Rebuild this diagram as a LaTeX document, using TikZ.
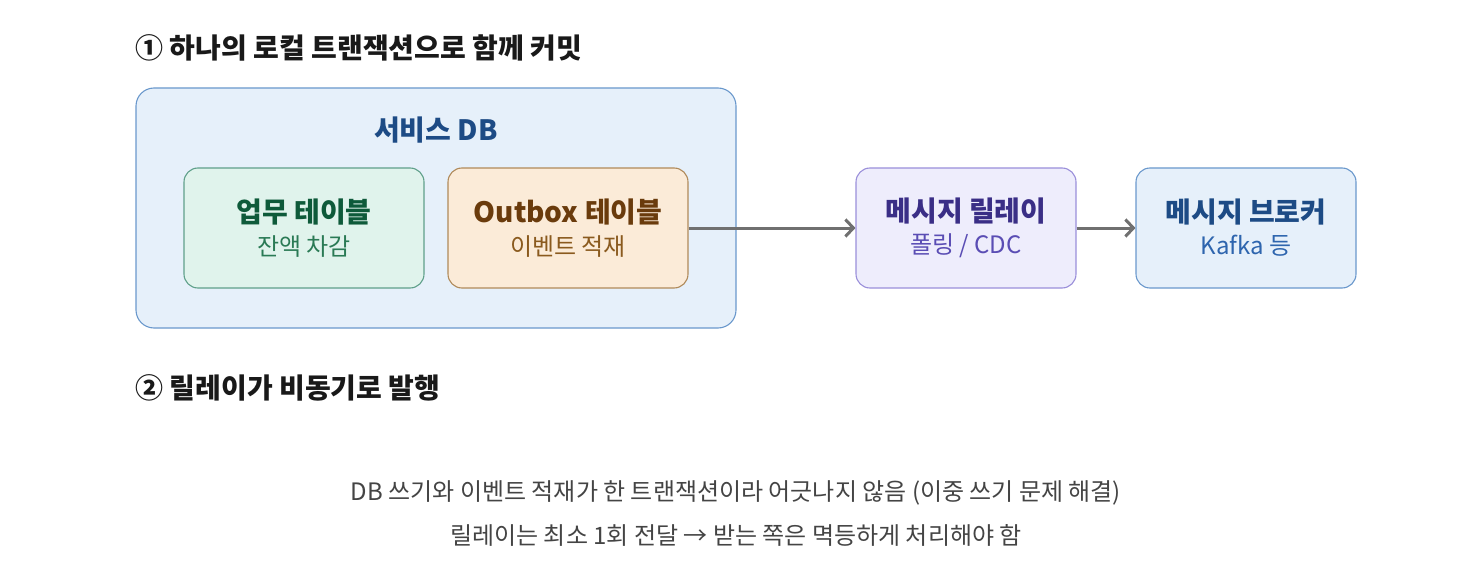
\documentclass[tikz,border=0pt]{standalone}
\usepackage{fontspec}
\setmainfont{Noto Sans CJK KR}
\usetikzlibrary{arrows.meta}

\definecolor{dbfill}{HTML}{E6F0FA}
\definecolor{dbline}{HTML}{6A98CC}
\definecolor{dbtext}{HTML}{1D4B85}
\definecolor{dbsub}{HTML}{2E65AE}
\definecolor{bizfill}{HTML}{E0F3EC}
\definecolor{bizline}{HTML}{5FA08A}
\definecolor{biztext}{HTML}{0E5A3A}
\definecolor{bizsub}{HTML}{2A7A55}
\definecolor{outfill}{HTML}{FBEBD8}
\definecolor{outline}{HTML}{B08A5A}
\definecolor{outtext}{HTML}{6A3B0C}
\definecolor{outsub}{HTML}{8A5A1E}
\definecolor{relfill}{HTML}{EEEDFC}
\definecolor{relline}{HTML}{9A8FDA}
\definecolor{reltext}{HTML}{3A2E86}
\definecolor{relsub}{HTML}{5A4DB4}
\definecolor{arrowgray}{HTML}{707070}
\definecolor{notegray}{HTML}{444444}

\newcommand{\boxtext}[4]{\textcolor{#1}{\fontsize{28}{32}\selectfont\bfseries #2}\\[9pt]\textcolor{#3}{\fontsize{24}{28}\selectfont #4}}

\begin{document}
\begin{tikzpicture}[
		x=1pt, y=-1pt,
		box/.style={rounded corners=14pt, line width=1.1pt, minimum width=240pt, minimum height=120pt, align=center},
		heading/.style={anchor=west, text=black!90, font=\fontsize{28}{32}\selectfont\bfseries},
		note/.style={text=notegray, font=\fontsize{24}{28}\selectfont},
		flow/.style={arrowgray, line width=3pt, -{Straight Barb[length=8pt, width=17pt, line width=3pt]}}
	]
	\useasboundingbox (0,0) rectangle (1472,580);

	% step 1
	\node[heading] (head1) at (132,48) {① 하나의 로컬 트랜잭션으로 함께 커밋};

	\draw[fill=dbfill, draw=dbline, line width=1.1pt, rounded corners=18pt] (136,88) rectangle (736,328);
	\node[text=dbtext, font=\fontsize{28}{32}\selectfont\bfseries] (dbname) at (436,130) {서비스 DB};

	\node[box, fill=bizfill, draw=bizline] (biz) at (304,228) {\boxtext{biztext}{업무 테이블}{bizsub}{잔액 차감}};
	\node[box, fill=outfill, draw=outline] (outbox) at (568,228) {\boxtext{outtext}{Outbox 테이블}{outsub}{이벤트 적재}};

	\node[box, minimum width=220pt, fill=relfill, draw=relline] (relay) at (966,228) {\boxtext{reltext}{메시지 릴레이}{relsub}{폴링 / CDC}};
	\node[box, minimum width=220pt, fill=dbfill, draw=dbline] (broker) at (1246,228) {\boxtext{dbtext}{메시지 브로커}{dbsub}{Kafka 등}};

	\draw[flow] (outbox.east) -- (relay.west);
	\draw[flow] (relay.east) -- (broker.west);

	% step 2
	\node[heading] (head2) at (132,388) {② 릴레이가 비동기로 발행};

	\node[note] (note1) at (736,493) {DB 쓰기와 이벤트 적재가 한 트랜잭션이라 어긋나지 않음 (이중 쓰기 문제 해결)};
	\node[note] (note2) at (736,535) {릴레이는 최소 1회 전달 → 받는 쪽은 멱등하게 처리해야 함};
\end{tikzpicture}
\end{document}
